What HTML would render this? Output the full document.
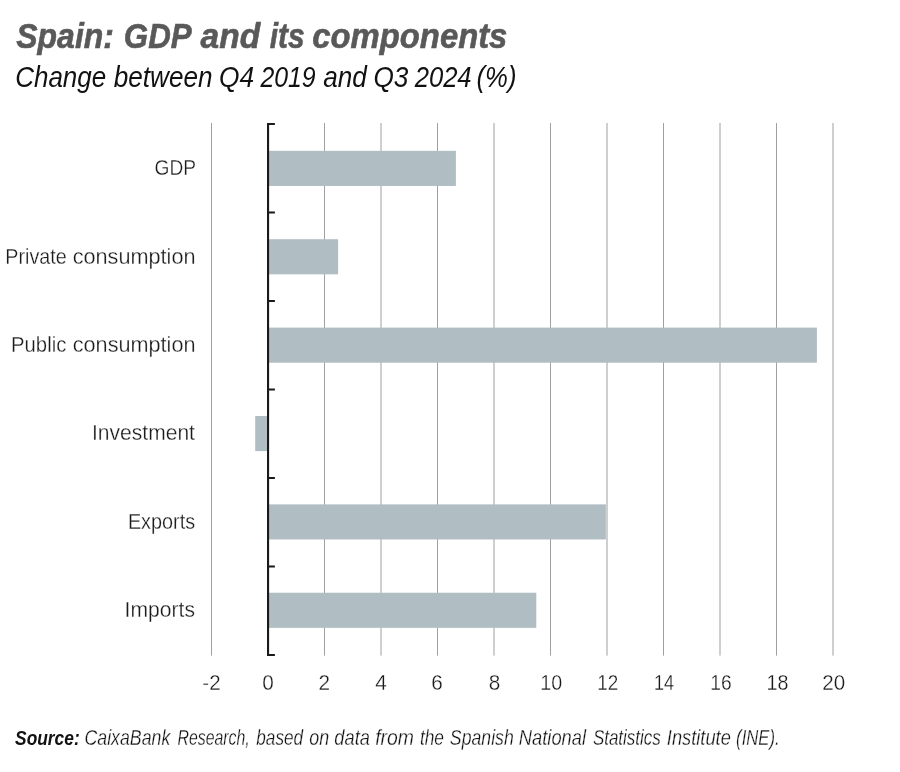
<!DOCTYPE html>
<html lang="en"><head><meta charset="utf-8"><title>Spain: GDP and its components</title>
<style>
html,body{margin:0;padding:0;background:#fff;}
body{width:900px;height:772px;overflow:hidden;}
svg{display:block;font-family:"Liberation Sans",sans-serif;}
.t{font-weight:bold;font-style:italic;font-size:35px;fill:#595959;stroke:#595959;stroke-width:0.6px;}
.s{font-style:italic;font-size:28.8px;fill:#111;}
.l{font-size:22.6px;fill:#1a1a1a;stroke:#fff;stroke-width:0.3px;}
.a{font-size:21.2px;fill:#1a1a1a;stroke:#fff;stroke-width:0.28px;}
.sb{font-weight:bold;font-style:italic;font-size:20.8px;fill:#111;}
.si{font-style:italic;font-size:21.2px;fill:#111;stroke:#fff;stroke-width:0.3px;}
</style></head><body>
<svg width="900" height="772" viewBox="0 0 900 772">
<rect width="900" height="772" fill="#fff"/>
<text class="t" x="16.27" y="47.6" textLength="97.66" lengthAdjust="spacingAndGlyphs">Spain:</text>
<text class="t" x="123.87" y="47.6" textLength="67.77" lengthAdjust="spacingAndGlyphs">GDP</text>
<text class="t" x="200.59" y="47.6" textLength="59.53" lengthAdjust="spacingAndGlyphs">and</text>
<text class="t" x="269.76" y="47.6" textLength="34.88" lengthAdjust="spacingAndGlyphs">its</text>
<text class="t" x="312.34" y="47.6" textLength="195.01" lengthAdjust="spacingAndGlyphs">components</text>
<text class="s" x="15.20" y="87.3" textLength="91.02" lengthAdjust="spacingAndGlyphs">Change</text>
<text class="s" x="113.80" y="87.3" textLength="98.72" lengthAdjust="spacingAndGlyphs">between</text>
<text class="s" x="219.09" y="87.3" textLength="35.14" lengthAdjust="spacingAndGlyphs">Q4</text>
<text class="s" x="260.46" y="87.3" textLength="55.15" lengthAdjust="spacingAndGlyphs">2019</text>
<text class="s" x="323.30" y="87.3" textLength="43.61" lengthAdjust="spacingAndGlyphs">and</text>
<text class="s" x="373.49" y="87.3" textLength="34.92" lengthAdjust="spacingAndGlyphs">Q3</text>
<text class="s" x="414.69" y="87.3" textLength="56.91" lengthAdjust="spacingAndGlyphs">2024</text>
<text class="s" x="476.51" y="87.3" textLength="40.01" lengthAdjust="spacingAndGlyphs">(%)</text>
<text class="l" x="154.53" y="175.1" textLength="41.51" lengthAdjust="spacingAndGlyphs">GDP</text>
<text class="l" x="5.30" y="263.5" textLength="61.33" lengthAdjust="spacingAndGlyphs">Private</text>
<text class="l" x="72.66" y="263.5" textLength="122.83" lengthAdjust="spacingAndGlyphs">consumption</text>
<text class="l" x="11.07" y="351.9" textLength="55.23" lengthAdjust="spacingAndGlyphs">Public</text>
<text class="l" x="72.76" y="351.9" textLength="122.73" lengthAdjust="spacingAndGlyphs">consumption</text>
<text class="l" x="92.00" y="440.4" textLength="102.97" lengthAdjust="spacingAndGlyphs">Investment</text>
<text class="l" x="127.89" y="529.0" textLength="67.30" lengthAdjust="spacingAndGlyphs">Exports</text>
<text class="l" x="124.59" y="617.3" textLength="70.43" lengthAdjust="spacingAndGlyphs">Imports</text>
<text class="a" x="202.36" y="689.9" textLength="18.23" lengthAdjust="spacingAndGlyphs">-2</text>
<text class="a" x="262.36" y="689.9" textLength="11.55" lengthAdjust="spacingAndGlyphs">0</text>
<text class="a" x="318.57" y="689.9" textLength="11.55" lengthAdjust="spacingAndGlyphs">2</text>
<text class="a" x="375.17" y="689.9" textLength="11.55" lengthAdjust="spacingAndGlyphs">4</text>
<text class="a" x="431.37" y="689.9" textLength="11.55" lengthAdjust="spacingAndGlyphs">6</text>
<text class="a" x="488.81" y="689.9" textLength="11.55" lengthAdjust="spacingAndGlyphs">8</text>
<text class="a" x="540.24" y="689.9" textLength="21.92" lengthAdjust="spacingAndGlyphs">10</text>
<text class="a" x="597.28" y="689.9" textLength="21.04" lengthAdjust="spacingAndGlyphs">12</text>
<text class="a" x="654.03" y="689.9" textLength="20.11" lengthAdjust="spacingAndGlyphs">14</text>
<text class="a" x="710.27" y="689.9" textLength="21.37" lengthAdjust="spacingAndGlyphs">16</text>
<text class="a" x="766.44" y="689.9" textLength="21.92" lengthAdjust="spacingAndGlyphs">18</text>
<text class="a" x="822.19" y="689.9" textLength="22.91" lengthAdjust="spacingAndGlyphs">20</text>
<text class="sb" x="15.10" y="745" textLength="64.57" lengthAdjust="spacingAndGlyphs">Source:</text>
<text class="si" x="84.54" y="745" textLength="85.71" lengthAdjust="spacingAndGlyphs">CaixaBank</text>
<text class="si" x="177.59" y="745" textLength="72.13" lengthAdjust="spacingAndGlyphs">Research,</text>
<text class="si" x="256.28" y="745" textLength="46.86" lengthAdjust="spacingAndGlyphs">based</text>
<text class="si" x="309.37" y="745" textLength="19.92" lengthAdjust="spacingAndGlyphs">on</text>
<text class="si" x="334.37" y="745" textLength="35.57" lengthAdjust="spacingAndGlyphs">data</text>
<text class="si" x="375.16" y="745" textLength="38.77" lengthAdjust="spacingAndGlyphs">from</text>
<text class="si" x="419.88" y="745" textLength="24.09" lengthAdjust="spacingAndGlyphs">the</text>
<text class="si" x="449.87" y="745" textLength="63.90" lengthAdjust="spacingAndGlyphs">Spanish</text>
<text class="si" x="518.87" y="745" textLength="67.14" lengthAdjust="spacingAndGlyphs">National</text>
<text class="si" x="592.88" y="745" textLength="67.91" lengthAdjust="spacingAndGlyphs">Statistics</text>
<text class="si" x="666.87" y="745" textLength="63.93" lengthAdjust="spacingAndGlyphs">Institute</text>
<text class="si" x="736.10" y="745" textLength="43.51" lengthAdjust="spacingAndGlyphs">(INE).</text>
<rect x="211.00" y="123" width="1" height="532.6" fill="#a0a0a0"/>
<rect x="324.00" y="123" width="1" height="532.6" fill="#a0a0a0"/>
<rect x="380.50" y="123" width="1" height="532.6" fill="#a0a0a0"/>
<rect x="437.00" y="123" width="1" height="532.6" fill="#a0a0a0"/>
<rect x="493.50" y="123" width="1" height="532.6" fill="#a0a0a0"/>
<rect x="550.00" y="123" width="1" height="532.6" fill="#a0a0a0"/>
<rect x="606.50" y="123" width="1" height="532.6" fill="#a0a0a0"/>
<rect x="663.00" y="123" width="1" height="532.6" fill="#a0a0a0"/>
<rect x="719.50" y="123" width="1" height="532.6" fill="#a0a0a0"/>
<rect x="776.00" y="123" width="1" height="532.6" fill="#a0a0a0"/>
<rect x="832.50" y="123" width="1" height="532.6" fill="#a0a0a0"/>
<rect x="268.00" y="150.85" width="187.89" height="35.1" fill="#b0bdc3"/>
<rect x="268.00" y="239.23" width="70.09" height="35.1" fill="#b0bdc3"/>
<rect x="268.00" y="327.61" width="548.90" height="35.1" fill="#b0bdc3"/>
<rect x="255.20" y="415.99" width="12.80" height="35.1" fill="#b0bdc3"/>
<rect x="268.00" y="504.37" width="337.87" height="35.1" fill="#b0bdc3"/>
<rect x="268.00" y="592.75" width="268.29" height="35.1" fill="#b0bdc3"/>
<rect x="267" y="123" width="2.1" height="533" fill="#1a1a1a"/>
<rect x="267" y="123.00" width="7.9" height="2" fill="#1a1a1a"/>
<rect x="267" y="211.50" width="7.9" height="2" fill="#1a1a1a"/>
<rect x="267" y="300.00" width="7.9" height="2" fill="#1a1a1a"/>
<rect x="267" y="388.50" width="7.9" height="2" fill="#1a1a1a"/>
<rect x="267" y="477.00" width="7.9" height="2" fill="#1a1a1a"/>
<rect x="267" y="565.50" width="7.9" height="2" fill="#1a1a1a"/>
<rect x="267" y="654.00" width="7.9" height="2" fill="#1a1a1a"/>
</svg></body></html>
